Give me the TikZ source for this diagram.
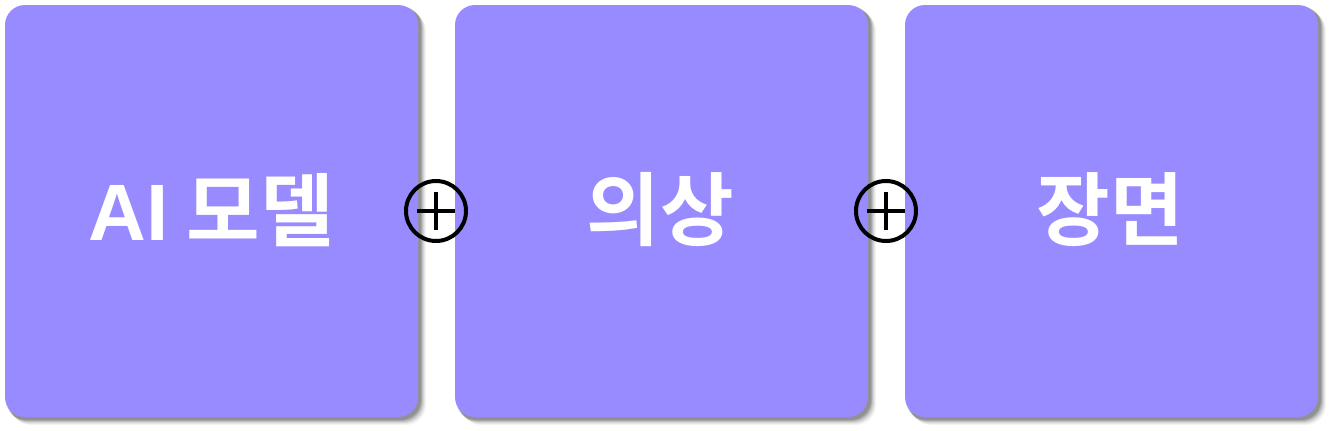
\documentclass[tikz,border=0pt]{standalone}
\usepackage{fontspec}
\newfontfamily\kr{Noto Sans CJK KR Bold}
\newfontfamily\lat{Liberation Sans}
\definecolor{boxfill}{RGB}{151,139,255}
\begin{document}
\begin{tikzpicture}[x=1pt,y=-1pt,
  card/.style={fill=boxfill,draw=none,rounded corners=20pt},
  lbl/.style={text=white,font=\kr\fontsize{80}{80}\selectfont,inner sep=0pt,anchor=center},
  plus/.style={draw=black,line width=4pt,circle,minimum size=60pt,inner sep=0pt}]
\useasboundingbox (0,0) rectangle (1331,431);
\fill[white] (0,0) rectangle (1331,431);
\foreach \x/\n in {5/a,455/b,905/c}{
  \foreach \s/\o in {8/0.04,7/0.05,6/0.07,5/0.09,4/0.12,3/0.15}{
    \fill[black,opacity=\o,rounded corners=20pt] (\x+\s-2,5+\s-2) rectangle (\x+413+\s,417+\s);
  }
  \fill[card] (\x,5) rectangle (\x+413,417);
  \coordinate (\n) at (\x+206.5,211);
}
\node[lbl] (ta) at (211,210) {{\lat\bfseries AI} 모델};
\node[lbl] (tb) at (660,210) {의상};
\node[lbl] (tc) at (1110,210) {장면};
\node[plus] (p1) at (436,211) {};
\node[plus] (p2) at (886,211) {};
\draw[line width=3.5pt] ([xshift=-19pt]p1.center) -- ([xshift=19pt]p1.center);
\draw[line width=3.5pt] ([yshift=-19pt]p1.center) -- ([yshift=19pt]p1.center);
\draw[line width=3.5pt] ([xshift=-19pt]p2.center) -- ([xshift=19pt]p2.center);
\draw[line width=3.5pt] ([yshift=-19pt]p2.center) -- ([yshift=19pt]p2.center);
\end{tikzpicture}
\end{document}
